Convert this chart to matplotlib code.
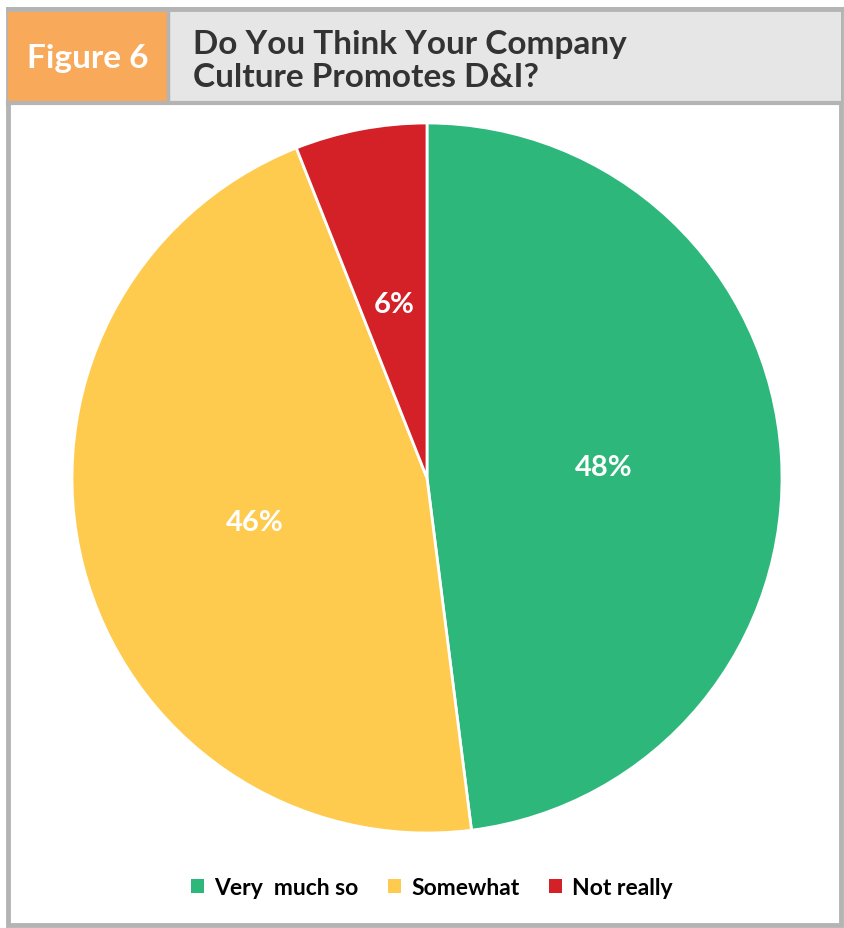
import matplotlib
matplotlib.use("Agg")
import matplotlib.pyplot as plt
from matplotlib.patches import Rectangle

categories = ["Very  much so", "Somewhat", "Not really"]
values = [48, 46, 6]
colors = ["#2DB77A", "#FECB4F", "#D42027"]
fig_label = "Figure 6"
title = "Do You Think Your Company\nCulture Promotes D&I?"

W, H = 844, 929
fig = plt.figure(figsize=(W / 100, H / 100), dpi=100)
fig.patch.set_facecolor("white")

def px(x, y):
    return x / W, 1 - y / H

FONT = ["Lato", "DejaVu Sans"]

# outer frame
bg = fig.add_axes([0, 0, 1, 1])
bg.set_xlim(0, W)
bg.set_ylim(H, 0)
bg.axis("off")
bg.add_patch(Rectangle((8, 10), 833, 916, facecolor="white", edgecolor="#B4B4B4", lw=3.5))
# header
bg.add_patch(Rectangle((8, 10), 160, 93, facecolor="#F9A95A", edgecolor="none"))
bg.add_patch(Rectangle((168, 10), 673, 93, facecolor="#E6E6E6", edgecolor="none"))
bg.plot([168, 168], [10, 103], color="#B4B4B4", lw=2.5)
bg.plot([8, 841], [103.5, 103.5], color="#B4B4B4", lw=3)
bg.plot([8, 841], [10, 10], color="#B4B4B4", lw=3.5)
bg.text(88, 58, fig_label, ha="center", va="center", color="white",
        fontsize=24, fontweight="bold", family=FONT)
bg.text(193, 61, title, ha="left", va="center", color="#333333",
        fontsize=24, fontweight="bold", family=FONT, linespacing=1.16)

# pie
cx, cy, r = 427, 479, 355
x0, y0 = px(cx - r, cy + r)
ax = fig.add_axes([x0, y0, 2 * r / W, 2 * r / H])
wedges, texts, autotexts = ax.pie(
    values, colors=colors, startangle=90, counterclock=False,
    autopct=lambda p: f"{p:.0f}%", pctdistance=0.5,
    wedgeprops=dict(edgecolor="white", linewidth=2))
for t in autotexts:
    t.set_color("white")
    t.set_fontsize(21)
    t.set_fontweight("bold")
    t.set_family(FONT)
ax.set_aspect("equal")
ax.set_xlim(-1, 1)
ax.set_ylim(-1, 1)

# legend
leg = fig.legend(wedges, categories, loc="center", bbox_to_anchor=px(432, 889),
                 ncol=3, frameon=False, handlelength=0.55, handleheight=0.55,
                 handletextpad=0.45, columnspacing=1.3,
                 prop=dict(family=FONT, weight="bold", size=16.5))
for h in leg.legend_handles:
    h.set_edgecolor("white")
    h.set_linewidth(0)

fig.savefig("out.png", dpi=100)
